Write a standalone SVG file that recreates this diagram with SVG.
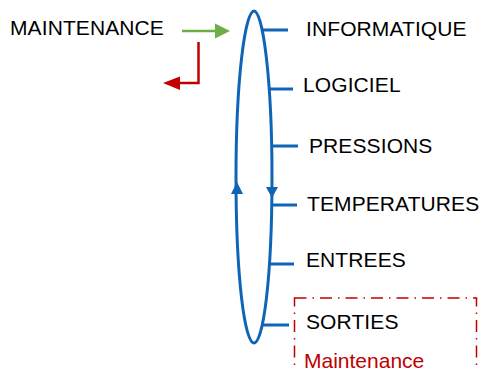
<svg xmlns="http://www.w3.org/2000/svg" width="483" height="371" viewBox="0 0 483 371">
<style>
.t{font-family:"Liberation Sans",Arial,sans-serif;font-size:21px;letter-spacing:0.1px;fill:#000}
.m{font-family:"Liberation Sans",Arial,sans-serif;font-size:21px;fill:#c00000}
.b{stroke:#0f64b6;stroke-width:3;fill:none}
</style>
<rect width="483" height="371" fill="#fff"/>
<g id="connectors">
<path class="b" d="M254,11 C263,11 272,80 272,177 C272,280 263,343 254,343 C245,343 236,280 236,177 C236,80 245,11 254,11 Z"/>
<polygon points="266,187 278,187 272,198" fill="#0f64b6"/>
<polygon points="231,194 243,194 237,182" fill="#0f64b6"/>
<line class="b" x1="262" y1="30" x2="288" y2="30"/>
<line class="b" x1="269" y1="89" x2="293" y2="89"/>
<line class="b" x1="271" y1="146" x2="298" y2="146"/>
<line class="b" x1="271" y1="205" x2="297" y2="205"/>
<line class="b" x1="269" y1="264" x2="294" y2="264"/>
<line class="b" x1="262" y1="325" x2="289" y2="325"/>
<line x1="182" y1="31" x2="216" y2="31" stroke="#6fad47" stroke-width="2.5"/>
<polygon points="215,23.5 230,31 215,38.5" fill="#6fad47"/>
<polyline points="198.5,42 198.5,83 178,83" fill="none" stroke="#c00000" stroke-width="2.5"/>
<polygon points="180,76.5 163,83 180,90" fill="#c00000"/>
</g>
<g id="maintenance"><text class="t" x="10" y="35">MAINTENANCE</text></g>
<g id="informatique"><text class="t" x="306" y="36">INFORMATIQUE</text></g>
<g id="logiciel"><text class="t" x="303" y="92">LOGICIEL</text></g>
<g id="pressions"><text class="t" x="309" y="153">PRESSIONS</text></g>
<g id="temperatures"><text class="t" x="307" y="211">TEMPERATURES</text></g>
<g id="entrees"><text class="t" x="306" y="267">ENTREES</text></g>
<g id="sorties">
<rect x="294.5" y="298" width="182" height="90" fill="none" stroke="#c00000" stroke-width="1.5" stroke-dasharray="12,6,1.5,6"/>
<text class="t" x="306" y="329">SORTIES</text>
<text class="m" x="304" y="368">Maintenance</text>
</g>
</svg>
